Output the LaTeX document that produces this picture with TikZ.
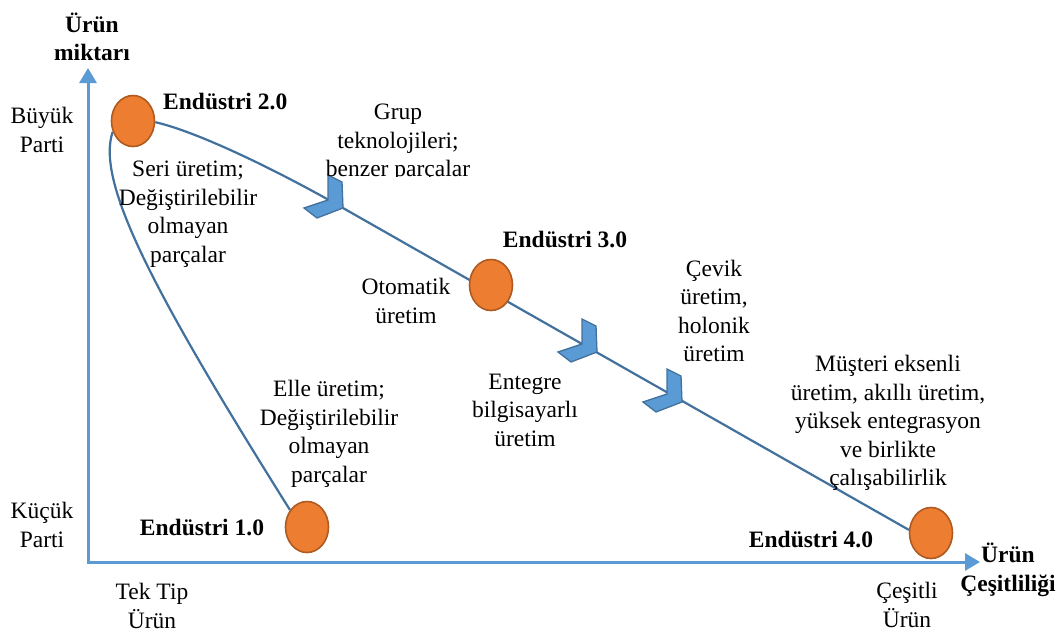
\documentclass[tikz,border=0pt]{standalone}
\usepackage{fontspec}
\setmainfont{Liberation Serif}
\usetikzlibrary{shapes.geometric,arrows.meta}
\definecolor{axisblue}{HTML}{5B9BD5}
\definecolor{lineblue}{HTML}{41719C}
\definecolor{orfill}{HTML}{ED7D31}
\definecolor{ordraw}{HTML}{AE5A21}
\pgfdeclarelayer{bg}
\pgfsetlayers{bg,main}
\begin{document}
\begin{tikzpicture}[x=1pt,y=-1pt,
  every node/.style={font=\fontsize{23.5}{28.5}\selectfont, align=center, inner sep=0pt},
  bold/.style={font=\fontsize{23.5}{28.5}\selectfont\bfseries},
  era/.style={ellipse, draw=ordraw, line width=1.6pt, fill=orfill, minimum width=43pt, minimum height=51pt},
  axis/.style={draw=axisblue, line width=3pt, {Triangle[length=15pt,width=17pt]}-{Triangle[length=15pt,width=17pt]}},
  trend/.style={draw=lineblue, line width=2.2pt},
  chevbox/.style={fill=axisblue, draw=lineblue, line width=1.3pt, line join=miter}]
\useasboundingbox (0,0) rectangle (1064,635);

% axes
\coordinate (o) at (88,562);
\coordinate (ytip) at (88,68);
\coordinate (xtip) at (980,562);
\draw[axis] (ytip) -- (o) -- (xtip);

% eras
\node[era] (e2) at (133,121) {};
\node[era] (e1) at (307,527) {};
\node[era] (e3) at (491,285) {};
\node[era] (e4) at (931,533) {};
\coordinate (c1) at (343,208);
\coordinate (c2) at (597,352);
\coordinate (c3) at (682,402);

\begin{pgfonlayer}{bg}
\fill[white] (0,0) rectangle (1064,635);
\draw[trend] (e2.208) .. controls +(-17,50) and +(-138,-220) .. (e1.135);
\draw[trend] (e2.-3) .. controls +(44,10) and +(-61,-35) .. (c1) -- (e4.172);
\end{pgfonlayer}

\foreach \c in {c1,c2,c3}
  \draw[chevbox, shift={(\c)}] (-15,-33) -- (-1,-26) -- (0,0) -- (-26,10) -- (-39,0) -- (-15,-8) -- cycle;

% labels
\node[bold] (ylab) at (92,37) {Ürün\\miktarı};
\node (big) at (42,130) {Büyük\\Parti};
\node (small) at (42,525) {Küçük\\Parti};
\node (tek) at (152,606) {Tek Tip\\Ürün};
\node (cesitli) at (907,605) {Çeşitli\\Ürün};
\node[bold] (xlab) at (1008,570) {Ürün\\Çeşitliliği};
\node[bold, anchor=west] (l2) at (163,102) {Endüstri 2.0};
\node[bold] (l1) at (202,528) {Endüstri 1.0};
\node[bold] (l3) at (565,240) {Endüstri 3.0};
\node[bold] (l4) at (811,540) {Endüstri 4.0};
\node (t2) at (188,214) {Seri üretim;\\Değiştirilebilir\\olmayan\\parçalar};
\begin{scope}
\clip (300,0) rectangle (500,176);
\node (tg) at (398,143) {Grup\\teknolojileri;\\benzer parçalar};
\end{scope}
\node (to) at (406,301) {Otomatik\\üretim};
\node (te) at (525,410) {Entegre\\bilgisayarlı\\üretim};
\node (tc) at (714,311) {Çevik\\üretim,\\holonik\\üretim};
\node (tm) at (888,423) {Müşteri eksenli\\üretim, akıllı üretim,\\yüksek entegrasyon\\ve birlikte\\çalışabilirlik};
\node (tl) at (329,434) {Elle üretim;\\Değiştirilebilir\\olmayan\\parçalar};
\end{tikzpicture}
\end{document}
